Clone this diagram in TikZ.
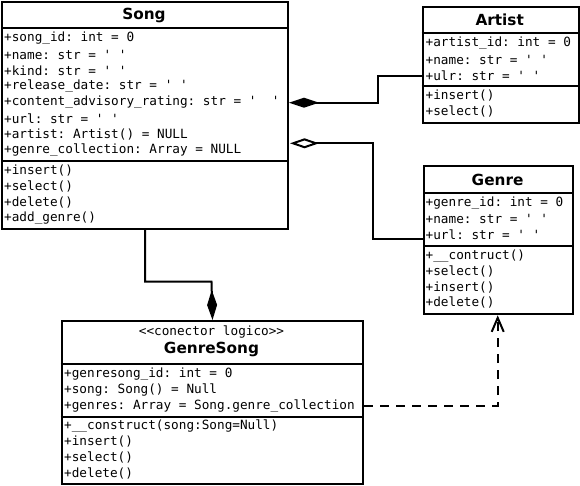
\documentclass[tikz,border=0pt]{standalone}
\usepackage{fontspec}
\setmonofont{DejaVu Sans Mono}
\newfontfamily\titlefont{DejaVu Sans}
\usetikzlibrary{arrows.meta}
\newcommand\sq{\textquotesingle}
\begin{document}
\begin{tikzpicture}[x=1pt,y=-1pt,
  box/.style={draw, line width=2pt, fill=white, inner sep=0, anchor=north west},
  sep/.style={line width=1.9pt},
  attr/.style={anchor=west, inner sep=0, font=\ttfamily\fontsize{12.7}{14}\selectfont},
  ttl/.style={inner sep=0, font=\titlefont\bfseries\fontsize{15.3}{18}\selectfont},
  conn/.style={line width=2pt},
  comp/.style={-{Diamond[length=30pt,width=10pt]}},
  aggr/.style={-{Diamond[length=29pt,width=10pt,fill=white]}},
  dep/.style={dash pattern=on 9pt off 7pt, -{Straight Barb[length=14pt,width=12pt]}},
]
\useasboundingbox (0,0) rectangle (580,486);

% ---------- Song ----------
\node[box, minimum width=286pt, minimum height=227pt] (song) at (1,1) {};
\draw[sep] (song.west |- 0,28.3) -- (song.east |- 0,28.3);
\draw[sep] (song.west |- 0,161) -- (song.east |- 0,161);
\node[ttl] (songT) at (144,15) {Song};
\foreach \t [count=\i from 0] in {+song\_id: int = 0, +name: str = \sq~\sq, +kind: str = \sq~\sq, +release\_date: str = \sq~\sq, +content\_advisory\_rating: str = \sq~~\sq, +url: str = \sq~\sq, +artist: Artist() = NULL, +genre\_collection: Array = NULL}
  \node[attr] (songA\i) at (4,38.6+16*\i) {\t};
\foreach \t [count=\i from 0] in {+insert(), +select(), +delete(), +add\_genre()}
  \node[attr] (songM\i) at (4,170.6+16*\i) {\t};

% ---------- Artist ----------
\node[box, minimum width=156pt, minimum height=115.7pt] (artist) at (421.7,6) {};
\draw[sep] (artist.west |- 0,33.3) -- (artist.east |- 0,33.3);
\draw[sep] (artist.west |- 0,85.7) -- (artist.east |- 0,85.7);
\node[ttl] (artistT) at (499.7,19.3) {Artist};
\foreach \t [count=\i from 0] in {+artist\_id: int = 0, +name: str = \sq~\sq, +ulr: str = \sq~\sq}
  \node[attr] (artistA\i) at (425.5,43.6+16*\i) {\t};
\foreach \t [count=\i from 0] in {+insert(), +select()}
  \node[attr] (artistM\i) at (425.5,95.7+15.5*\i) {\t};

% ---------- Genre ----------
\node[box, minimum width=148.7pt, minimum height=148.3pt] (genre) at (423.3,165) {};
\draw[sep] (genre.west |- 0,193.3) -- (genre.east |- 0,193.3);
\draw[sep] (genre.west |- 0,246) -- (genre.east |- 0,246);
\node[ttl] (genreT) at (497.6,180) {Genre};
\foreach \t [count=\i from 0] in {+genre\_id: int = 0, +name: str = \sq~\sq, +url: str = \sq~\sq}
  \node[attr] (genreA\i) at (425.5,202.7+15.8*\i) {\t};
\foreach \t [count=\i from 0] in {+\_\_contruct(), +select(), +insert(), +delete()}
  \node[attr] (genreM\i) at (425.5,256+15.6*\i) {\t};

% ---------- GenreSong ----------
\node[box, minimum width=301.6pt, minimum height=163.3pt] (gs) at (60.7,320) {};
\draw[sep] (gs.west |- 0,364.3) -- (gs.east |- 0,364.3);
\draw[sep] (gs.west |- 0,416.7) -- (gs.east |- 0,416.7);
\node[attr, anchor=center] (gsS) at (211.5,331.7) {<{}<conector logico>{}>};
\node[ttl] (gsT) at (211.5,349.3) {GenreSong};
\foreach \t [count=\i from 0] in {+genresong\_id: int = 0, +song: Song() = Null, +genres: Array = Song.genre\_collection}
  \node[attr] (gsA\i) at (64,374+15.9*\i) {\t};
\foreach \t [count=\i from 0] in {+\_\_construct(song:Song=Null), +insert(), +select(), +delete()}
  \node[attr] (gsM\i) at (64,425.7+15.9*\i) {\t};

% ---------- connectors ----------
\draw[conn, comp] (artist.west |- 0,76) -| (377.7,102.7) -- (song.east |- 0,102.7);
\draw[conn, aggr] (genre.west |- 0,238.7) -| (372.7,143.3) -- (290,143.3);
\draw[conn, comp] (song.south) |- (211.5,281.7) -- (gs.north);
\draw[conn, dep] (gs.east |- 0,405.7) -| (genre.south -| 497.7,0);
\end{tikzpicture}
\end{document}
